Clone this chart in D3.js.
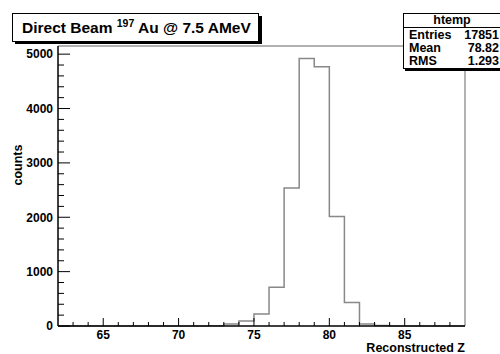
<!DOCTYPE html>
<html>
<head>
<meta charset="utf-8">
<script src="https://cdn.jsdelivr.net/npm/d3@7"></script>
<style>
  body { margin: 0; background: #fff; }
  text { font-family: "Liberation Sans", Arial, sans-serif; font-weight: bold; }
</style>
</head>
<body>
<div id="chart"></div>
<script>
// Histogram data: lower bin edges (width 1) and counts
const binLow = [62, 63, 64, 65, 66, 67, 68, 69, 70, 71, 72, 73, 74, 75, 76, 77, 78, 79, 80, 81, 82, 83, 84, 85, 86, 87, 88];
const counts = [0, 0, 0, 0, 0, 0, 0, 0, 0, 2, 5, 37, 90, 220, 715, 2540, 4920, 4770, 2015, 430, 35, 10, 0, 0, 0, 0, 0];
const xMajorTicks = [65, 70, 75, 80, 85];
const yMajorTicks = [0, 1000, 2000, 3000, 4000, 5000];
const statsLabels = ["Entries", "Mean", "RMS"];
const statsValues = ["17851", "78.82", "1.293"];

const W = 500, H = 354;
const margin = {top: 46, right: 35, bottom: 28, left: 58};
const width = W - margin.left - margin.right;
const height = H - margin.top - margin.bottom;

const svg = d3.select("#chart").append("svg")
    .attr("width", W)
    .attr("height", H);

const x = d3.scaleLinear().domain([62, 89]).range([0, width]);
const y = d3.scaleLinear().domain([0, 5150]).range([height, 0]);

const g = svg.append("g")
    .attr("transform", `translate(${margin.left},${margin.top})`);

// Frame top & right (grey)
g.append("path")
    .attr("d", `M0,0H${width}V${height}`)
    .attr("fill", "none")
    .attr("stroke", "#999")
    .attr("stroke-width", 1.5);

// Histogram step outline
const pts = [[62, 0]];
binLow.forEach((b, i) => {
    pts.push([b, counts[i]]);
    pts.push([b + 1, counts[i]]);
});
pts.push([89, 0]);
const line = d3.line().x(d => x(d[0])).y(d => y(d[1]));
g.append("path")
    .datum(pts)
    .attr("d", line)
    .attr("fill", "none")
    .attr("stroke", "#888")
    .attr("stroke-width", 1.5);

// X axis: ticks pointing inward
const xMinor = d3.range(63, 89, 1).filter(v => v % 5 !== 0);
const xAxis = g.append("g").attr("transform", `translate(0,${height})`);
xAxis.append("line").attr("x1", 0).attr("x2", width).attr("stroke", "#000").attr("stroke-width", 1.5);
xAxis.selectAll(".minor").data(xMinor).enter().append("line")
    .attr("x1", d => x(d)).attr("x2", d => x(d))
    .attr("y1", 0).attr("y2", -4)
    .attr("stroke", "#000");
xAxis.selectAll(".major").data(xMajorTicks).enter().append("line")
    .attr("x1", d => x(d)).attr("x2", d => x(d))
    .attr("y1", 0).attr("y2", -8)
    .attr("stroke", "#000");
xAxis.selectAll(".lbl").data(xMajorTicks).enter().append("text")
    .attr("x", d => x(d)).attr("y", 13)
    .attr("text-anchor", "middle")
    .style("font-size", "12px")
    .text(d => d);

// Y axis
const yMinor = d3.range(200, 5150, 200).filter(v => v % 1000 !== 0);
const yAxis = g.append("g");
yAxis.append("line").attr("y1", 0).attr("y2", height).attr("stroke", "#000").attr("stroke-width", 1.5);
yAxis.selectAll(".minor").data(yMinor).enter().append("line")
    .attr("y1", d => y(d)).attr("y2", d => y(d))
    .attr("x1", 0).attr("x2", 6)
    .attr("stroke", "#000");
yAxis.selectAll(".major").data(yMajorTicks).enter().append("line")
    .attr("y1", d => y(d)).attr("y2", d => y(d))
    .attr("x1", 0).attr("x2", 12)
    .attr("stroke", "#000");
yAxis.selectAll(".lbl").data(yMajorTicks).enter().append("text")
    .attr("x", -5).attr("y", d => y(d))
    .attr("dy", "0.36em")
    .attr("text-anchor", "end")
    .style("font-size", "12px")
    .text(d => d);

// Axis titles
svg.append("text")
    .attr("x", margin.left + width).attr("y", 352)
    .attr("text-anchor", "end")
    .style("font-size", "12.5px")
    .text("Reconstructed Z");
svg.append("text")
    .attr("transform", `translate(22,${margin.top + height / 2 - 21}) rotate(-90)`)
    .attr("text-anchor", "middle")
    .style("font-size", "12.5px")
    .text("counts");

// Title box with shadow
svg.append("rect").attr("x", 15).attr("y", 16).attr("width", 247).attr("height", 28).attr("fill", "#000");
svg.append("rect").attr("x", 12.5).attr("y", 13.5).attr("width", 246).attr("height", 28)
    .attr("fill", "#fff").attr("stroke", "#000");
const title = svg.append("text").attr("x", 22).attr("y", 33).style("font-size", "15.5px");
title.append("tspan").text("Direct Beam ");
title.append("tspan").attr("dy", -6).style("font-size", "10.5px").text("197");
title.append("tspan").attr("dy", 6).text(" Au @ 7.5 AMeV");

// Stats box
svg.append("rect").attr("x", 405).attr("y", 15).attr("width", 100).attr("height", 56).attr("fill", "#000");
svg.append("rect").attr("x", 403.5).attr("y", 13.5).attr("width", 100).attr("height", 55)
    .attr("fill", "#fff").attr("stroke", "#000");
svg.append("line").attr("x1", 403.5).attr("x2", 500).attr("y1", 27.5).attr("y2", 27.5).attr("stroke", "#000");
svg.append("text").attr("x", 452).attr("y", 24).attr("text-anchor", "middle")
    .style("font-size", "12.5px").text("htemp");
const rowY = d3.scalePoint().domain(statsLabels).range([38.5, 65]);
svg.selectAll(".slbl").data(statsLabels).enter().append("text")
    .attr("x", 409).attr("y", d => rowY(d))
    .style("font-size", "12.5px").text(d => d);
svg.selectAll(".sval").data(statsValues).enter().append("text")
    .attr("x", 499).attr("y", (d, i) => rowY(statsLabels[i]))
    .attr("text-anchor", "end")
    .style("font-size", "12.5px").text(d => d);
</script>
</body>
</html>
